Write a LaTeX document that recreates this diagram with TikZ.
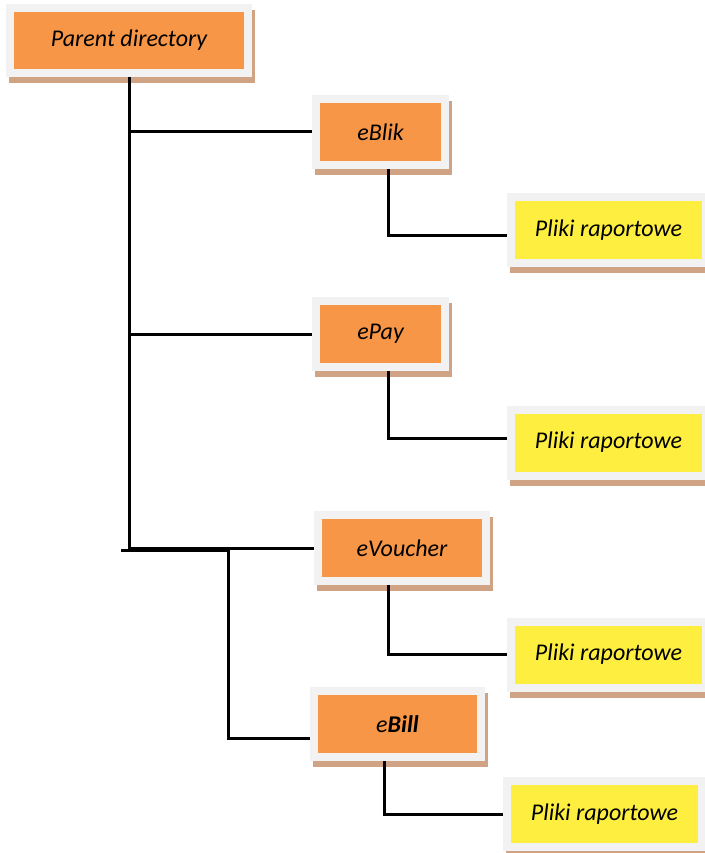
\documentclass[tikz,border=0pt]{standalone}
\usepackage{fontspec}
\setmainfont{Carlito}
\usetikzlibrary{shadows}
\definecolor{boxorange}{HTML}{F79646}
\definecolor{boxyellow}{HTML}{FDEE40}
\definecolor{framegrey}{HTML}{F2F2F2}
\definecolor{shadowtan}{HTML}{CFA384}
\tikzset{every shadow/.style={fill=shadowtan,opacity=1}}
\tikzset{dirbox/.style={rectangle,fill=framegrey,inner sep=0pt,
  font=\fontsize{24}{28}\selectfont\itshape,
  drop shadow={shadow xshift=3pt,shadow yshift=-6pt},
  path picture={\fill[#1] ([shift={(8pt,8pt)}]path picture bounding box.south west)
    rectangle ([shift={(-8pt,-8pt)}]path picture bounding box.north east);}},
  dirbox/.default=boxorange}
\tikzset{filebox/.style={dirbox=boxyellow,minimum width=203pt,minimum height=74pt}}
\tikzset{branch/.style={draw=black,line width=3pt}}

\begin{document}
\begin{tikzpicture}[x=1pt,y=-1pt]
\useasboundingbox (0,0) rectangle (704,853);
% directories
\node (parent) [dirbox,minimum width=246pt,minimum height=73pt] at (129,40.5) {Parent directory};
\node (eblik) [dirbox,minimum width=137pt,minimum height=74pt] at (380.5,132) {eBlik};
\node (epay) [dirbox,minimum width=137pt,minimum height=74pt] at (380.5,334) {ePay};
\node (evoucher) [dirbox,minimum width=176pt,minimum height=74pt] at (402,548) {eVoucher};
\node (ebill) [dirbox,minimum width=175pt,minimum height=74pt] at (397.5,724) {e\textbf{Bill}};
% report files
\node (pliki1) [filebox] at (608.5,230) {Pliki raportowe};
\node (pliki2) [filebox] at (608.5,442.5) {Pliki raportowe};
\node (pliki3) [filebox] at (608.5,654.5) {Pliki raportowe};
\node (pliki4) [filebox] at (604.5,814) {Pliki raportowe};
%
\coordinate (jog) at (121,550);
\coordinate (bend) at (228,550);
\path[branch] (parent) |- (eblik);
\path[branch] (parent) |- (epay);
\path[branch] (parent) |- (evoucher);
\path[branch] (jog) -- (bend) |- ([yshift=-14pt]ebill.west);
\path[branch] ([xshift=7.5pt]eblik.south) |- ([yshift=-5pt]pliki1.west);
\path[branch] ([xshift=7.5pt]epay.south) |- ([yshift=4.5pt]pliki2.west);
\path[branch] ([xshift=-14pt]evoucher.south) |- (pliki3.west);
\path[branch] ([xshift=-13.5pt]ebill.south) |- (pliki4.west);
\end{tikzpicture}
\end{document}
